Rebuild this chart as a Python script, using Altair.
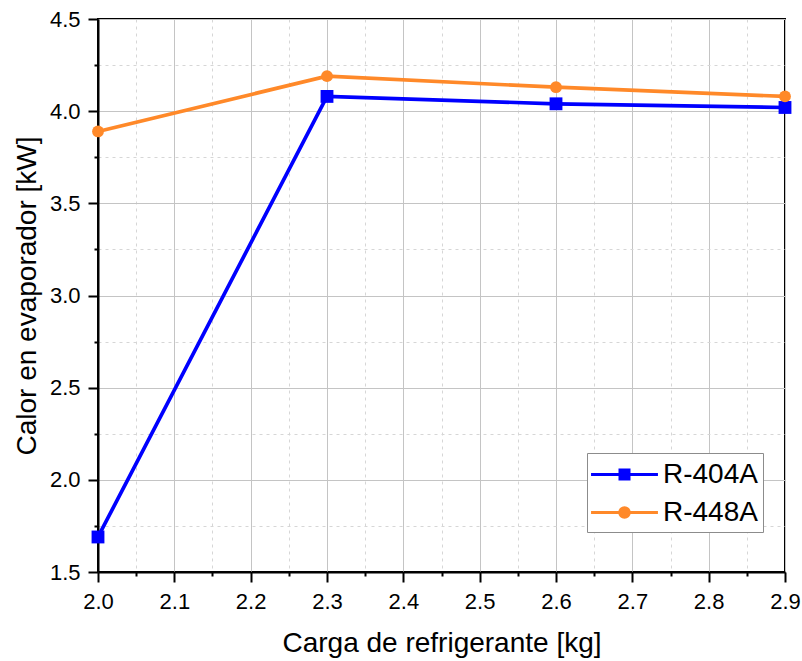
import altair as alt
import pandas as pd

carga = [2.0, 2.3, 2.6, 2.9]
r404a = [1.69, 4.08, 4.04, 4.02]
r448a = [3.89, 4.19, 4.13, 4.08]
series = ["R-404A", "R-448A"]
colors = ["#0000ff", "#ff8929"]
x_major = [2.0, 2.1, 2.2, 2.3, 2.4, 2.5, 2.6, 2.7, 2.8, 2.9]
x_minor = [2.05, 2.15, 2.25, 2.35, 2.45, 2.55, 2.65, 2.75, 2.85]
y_major = [1.5, 2.0, 2.5, 3.0, 3.5, 4.0, 4.5]
y_minor = [1.75, 2.25, 2.75, 3.25, 3.75, 4.25]

rows = []
for s, vals in zip(series, [r404a, r448a]):
    for xv, yv in zip(carga, vals):
        rows.append({"carga": xv, "calor": yv, "serie": s})
df = pd.DataFrame(rows)

FONT = "Liberation Sans"
xscale = alt.Scale(domain=[2.0, 2.9], nice=False, zero=False)
yscale = alt.Scale(domain=[1.5, 4.5], nice=False, zero=False)
# colour scale for the marks (domain taken from the data)
cscale = alt.Scale(range=colors)
# scales for the legend-only layer
lscale = alt.Scale(domain=series, range=colors)

# legend symbols: line segment with a (stroke-filled) marker
sq = ("M-2.23,0H2.23"
      "M-0.3,-0.3H0.3V0.3H-0.3Z"
      "M-0.167,-0.167H0.167V0.167H-0.167Z"
      "M-0.033,-0.033H0.033V0.033H-0.033Z")
ci = ("M-2.23,0H2.23"
      "M0.317,0A0.317,0.317 0 1,1 -0.317,0A0.317,0.317 0 1,1 0.317,0Z"
      "M0.183,0A0.183,0.183 0 1,1 -0.183,0A0.183,0.183 0 1,1 0.183,0Z"
      "M0.05,0A0.05,0.05 0 1,1 -0.05,0A0.05,0.05 0 1,1 0.05,0Z")

legend = alt.Legend(
    orient="none", legendX=489, legendY=434, title=None,
    labelFont=FONT, labelFontSize=28, labelColor="black",
    symbolSize=900, symbolStrokeWidth=3, symbolOffset=16, labelOffset=22,
    symbolOpacity=1,
    padding=5, rowPadding=7, fillColor="white", strokeColor="#8c8c8c",
)

minor_x_axis = alt.Axis(orient="bottom", values=x_minor, labels=False, title=None,
                        domain=False, ticks=True, tickSize=4, tickWidth=2, tickColor="black",
                        grid=True, gridColor="#d6d6d6", gridDash=[3, 4], gridWidth=1)
minor_y_axis = alt.Axis(orient="left", values=y_minor, labels=False, title=None,
                        domain=False, ticks=True, tickSize=4, tickWidth=2, tickColor="black",
                        grid=True, gridColor="#d6d6d6", gridDash=[3, 4], gridWidth=1)

major_common = dict(labelFont=FONT, labelFontSize=22, labelColor="black",
                    labelFlush=False, labelOverlap=False,
                    tickSize=10, tickWidth=2, tickColor="black",
                    domain=True, domainColor="black", domainWidth=2,
                    grid=True, gridColor="#c4c4c4", gridWidth=1,
                    titleFont=FONT, titleFontSize=28, titleFontWeight="normal",
                    titleColor="black", format=".1f")
major_x_axis = alt.Axis(orient="bottom", values=x_major, title="Carga de refrigerante [kg]",
                        labelPadding=9, titlePadding=17, **major_common)
major_y_axis = alt.Axis(orient="left", values=y_major, title="Calor en evaporador [kW]",
                        labelPadding=8, titlePadding=8, **major_common)

lines = alt.Chart(df).mark_line(strokeWidth=3.7, clip=False).encode(
    x=alt.X("carga:Q", scale=xscale, axis=minor_x_axis),
    y=alt.Y("calor:Q", scale=yscale, axis=minor_y_axis),
    color=alt.Color("serie:N", scale=cscale, legend=None),
)

squares = alt.Chart(df).transform_filter(alt.datum.serie == series[0]).mark_square(
    size=165, opacity=1, clip=False
).encode(
    x=alt.X("carga:Q", scale=xscale, axis=major_x_axis),
    y=alt.Y("calor:Q", scale=yscale, axis=major_y_axis),
    color=alt.Color("serie:N", scale=cscale, legend=None),
)

circles = alt.Chart(df).transform_filter(alt.datum.serie == series[1]).mark_circle(
    size=140, opacity=1, clip=False
).encode(
    x=alt.X("carga:Q", scale=xscale, axis=None),
    y=alt.Y("calor:Q", scale=yscale, axis=None),
    color=alt.Color("serie:N", scale=cscale, legend=None),
)

legend_layer = alt.Chart(df).transform_filter("false").mark_point(
    filled=True, strokeWidth=3, opacity=1
).encode(
    fill=alt.Fill("serie:N", scale=lscale, legend=legend),
    stroke=alt.Stroke("serie:N", scale=lscale, legend=legend),
    shape=alt.Shape("serie:N", scale=alt.Scale(domain=series, range=[sq, ci]), legend=legend),
    size=alt.value(900),
)

chart = alt.layer(lines, squares, circles, legend_layer).resolve_axis(
    x="independent", y="independent"
).properties(
    width=687, height=553,
    autosize=alt.AutoSizeParams(type="none"),
    padding={"left": 98, "top": 19, "right": 17, "bottom": 89},
    background="white",
).configure_view(stroke="black", strokeWidth=2)

chart.save("out.html", embed_options={"renderer": "svg", "actions": False})
